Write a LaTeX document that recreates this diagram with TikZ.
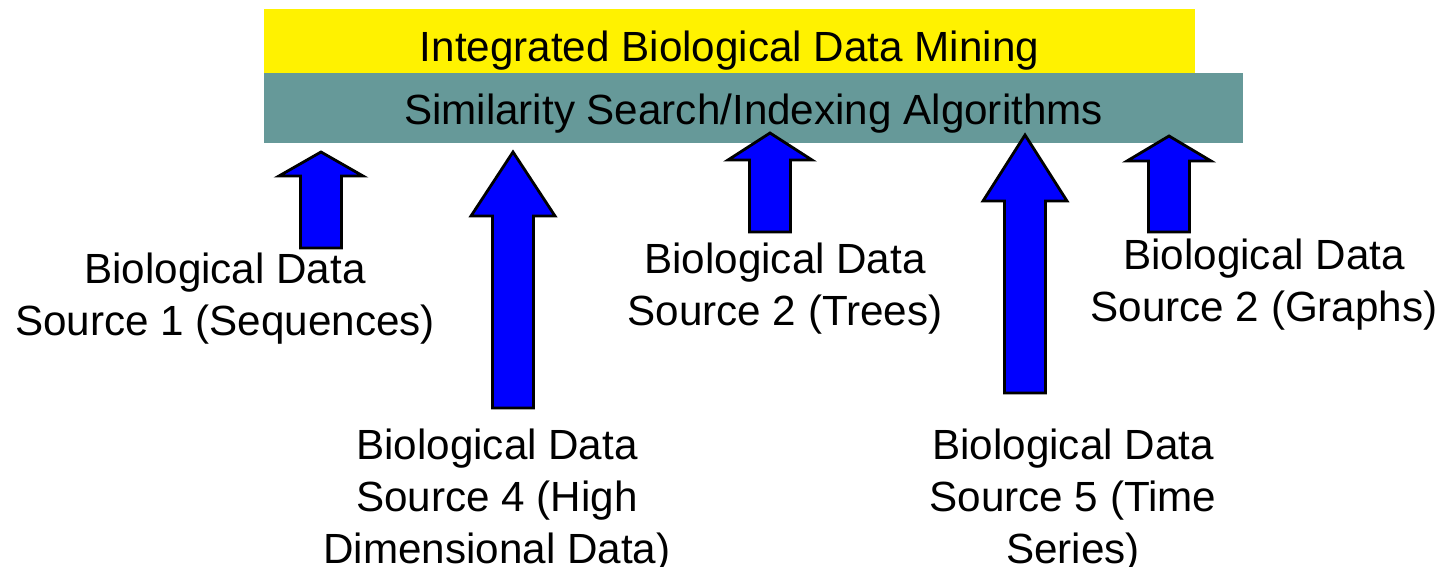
\documentclass[tikz,border=0pt]{standalone}
\usepackage{fontspec}
\setmainfont{Liberation Sans}
\usetikzlibrary{positioning}
\definecolor{minebar}{RGB}{255,242,0}
\definecolor{searchbar}{RGB}{102,153,153}
\definecolor{feedblue}{RGB}{0,0,255}

% block arrow pointing up: centre x, tip y, head base y, tail y
\newcommand{\feedarrow}[4]{%
  \draw[feed] ({#1-20.5},{#4}) -- ({#1+20.5},{#4}) -- ({#1+20.5},{#3})
    -- ({#1+42},{#3}) -- ({#1},{#2}) -- ({#1-42},{#3}) -- ({#1-20.5},{#3}) -- cycle;}

\begin{document}
\begin{tikzpicture}[
  x=0.01cm, y=-0.01cm,
  every node/.style={font=\fontsize{12}{14.8}\selectfont},
  bar/.style={anchor=north west, inner sep=0pt, minimum height=0.64cm, text depth=0pt},
  feed/.style={draw=black, fill=feedblue, line width=0.8pt, line join=miter},
  source/.style={align=center, inner sep=0pt}
]
  \useasboundingbox (0,0) rectangle (1446,567);

  % the two stacked layers
  \node[bar, fill=minebar, minimum width=9.31cm, text height=12pt] (mining) at (263,8)
    {Integrated Biological Data Mining};
  \node[bar, fill=searchbar, minimum width=9.79cm, minimum height=0.70cm, text height=9.4pt]
    (search) at (263,72) {Similarity Search/Indexing Algorithms};

  % data sources
  \node[source] (src1) at (225,299) {Biological Data\\Source 1 (Sequences)};
  \node[source] (src4) at (497,501) {Biological Data\\Source 4 (High\\Dimensional Data)};
  \node[source] (src2) at (785,289) {Biological Data\\Source 2 (Trees)};
  \node[source] (src5) at (1073,501) {Biological Data\\Source 5 (Time\\Series)};
  \node[source] (src3) at (1264,285) {Biological Data\\Source 2 (Graphs)};

  % arrows feeding the search layer
  \feedarrow{321}{152}{176}{248}
  \feedarrow{513}{152}{216}{408}
  \feedarrow{770}{133}{160}{232}
  \feedarrow{1025}{135}{201}{393}
  \feedarrow{1169}{136}{161}{232}

\end{tikzpicture}
\end{document}
